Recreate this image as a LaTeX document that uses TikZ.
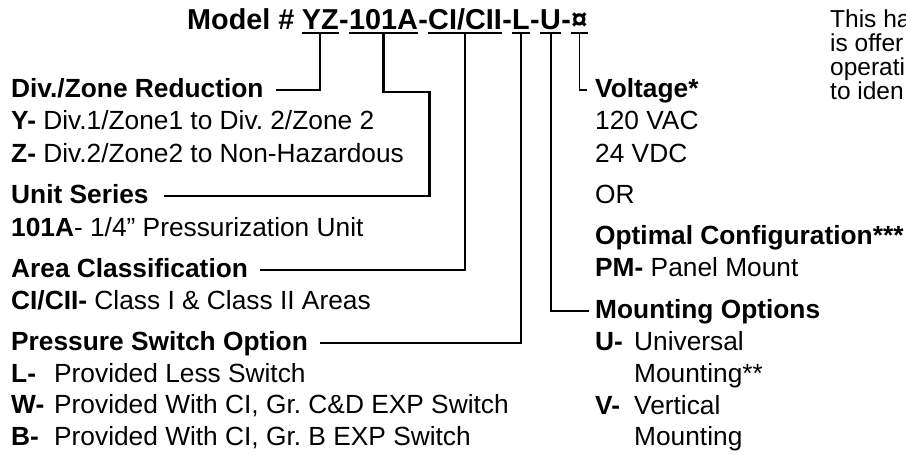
\documentclass[tikz,border=0pt]{standalone}
\usepackage{fontspec}
\setmainfont{Liberation Sans}
\usetikzlibrary{calc}
\frenchspacing

% label of an option with its text set at a fixed tab
\newcommand{\optlbl}[2]{\makebox[#1][l]{\bfseries #2}}

\begin{document}
\begin{tikzpicture}[
  x=1pt, y=-1pt,
  txt/.style={anchor=base west, inner sep=0pt, font=\fontsize{26.3}{30}\selectfont},
  hdr/.style={txt, font=\fontsize{26.3}{30}\selectfont\bfseries},
  ttl/.style={anchor=base west, inner sep=0pt, font=\fontsize{28.8}{32}\selectfont\bfseries},
  note/.style={anchor=base west, inner sep=0pt, font=\fontsize{24.5}{27}\selectfont},
  lead/.style={draw, line width=2.2pt, line join=miter},
  thinlead/.style={draw, line width=1.4pt},
  uline/.style={draw, line width=2pt}
]
  \useasboundingbox (0,0) rectangle (906,453);

  % model number
  \node[ttl] (model) at (187,29) {Model \#};
  \node[ttl] (yz)   at ([xshift=7pt]model.base east) {YZ};
  \node[ttl] (d1)   at (yz.base east) {-};
  \node[ttl] (a101) at (d1.base east) {101A};
  \node[ttl] (d2)   at (a101.base east) {-};
  \node[ttl] (cls)  at (d2.base east) {CI/CII};
  \node[ttl] (d3)   at (cls.base east) {-};
  \node[ttl] (sw)   at (d3.base east) {L};
  \node[ttl] (d4)   at (sw.base east) {-};
  \node[ttl] (mnt)  at (d4.base east) {U};
  \node[ttl] (d5)   at (mnt.base east) {-};
  \node[ttl] (vlt)  at (d5.base east) {¤};
  \foreach \n in {yz,a101,cls,sw,mnt,vlt}
    \draw[uline] ([yshift=-4pt]\n.base west) -- ([yshift=-4pt]\n.base east);

  % left column
  \node[hdr] (divhdr)  at (11,97)  {Div./Zone Reduction};
  \node[txt] (divy)    at (11,129) {\textbf{Y-} Div.1/Zone1 to Div. 2/Zone 2};
  \node[txt] (divz)    at (11,162) {\textbf{Z-} Div.2/Zone2 to Non-Hazardous};
  \node[hdr] (unithdr) at (11,203) {Unit Series};
  \node[txt] (unita)   at (11,236) {\textbf{101A}- 1/4” Pressurization Unit};
  \node[hdr] (areahdr) at (11,277) {Area Classification};
  \node[txt] (areac)   at (11,309) {\textbf{CI/CII-} Class I \& Class II Areas};
  \node[hdr] (preshdr) at (11,350) {Pressure Switch Option};
  \node[txt] (presl)   at (11,382) {\optlbl{43pt}{L-}Provided Less Switch};
  \node[txt] (presw)   at (11,413) {\optlbl{43pt}{W-}Provided With CI, Gr. C\&D EXP Switch};
  \node[txt] (presb)   at (11,445) {\optlbl{43pt}{B-}Provided With CI, Gr. B EXP Switch};

  % right column
  \node[hdr] (volthdr) at (595,97)  {Voltage*};
  \node[txt] (volta)   at (595,129) {120 VAC};
  \node[txt] (voltb)   at (595,162) {24 VDC};
  \node[txt] (voltor)  at (595,203) {OR};
  \node[hdr] (cfghdr)  at (595,244) {Optimal Configuration***};
  \node[txt] (cfgpm)   at (595,276) {\textbf{PM-} Panel Mount};
  \node[hdr] (mnthdr)  at (595,318) {Mounting Options};
  \node[txt] (mntu)    at (595,350) {\optlbl{39pt}{U-}Universal};
  \node[txt] (mntu2)   at (634,382) {Mounting**};
  \node[txt] (mntv)    at (595,414) {\optlbl{39pt}{V-}Vertical};
  \node[txt] (mntv2)   at (634,445) {Mounting};

  % note, cut at the right edge
  \node[note] (note1) at (830,27) {This ha};
  \node[note] (note2) at (830,51) {is offer};
  \node[note] (note3) at (830,75) {operati};
  \node[note] (note4) at (830,99) {to iden};

  % leaders
  \draw[lead] ([yshift=-4pt]yz.base) |- ([xshift=12pt,yshift=7pt]divhdr.base east);
  \draw[lead] ([yshift=-4pt]a101.base) -- ++(0,59) -- ++(46,0)
    |- ([xshift=15pt,yshift=7pt]unithdr.base east);
  \draw[lead] ([yshift=-4pt]cls.base) |- ([xshift=12pt,yshift=7pt]areahdr.base east);
  \draw[lead] ([yshift=-4pt]sw.base) |- ([xshift=12pt,yshift=7pt]preshdr.base east);
  \draw[lead] ([yshift=-4pt]mnt.base) |- ([xshift=-6pt,yshift=7pt]mnthdr.base west);
  \draw[thinlead] ([yshift=-4pt]vlt.base) |- ([xshift=-8pt,yshift=7pt]volthdr.base west);
\end{tikzpicture}
\end{document}
